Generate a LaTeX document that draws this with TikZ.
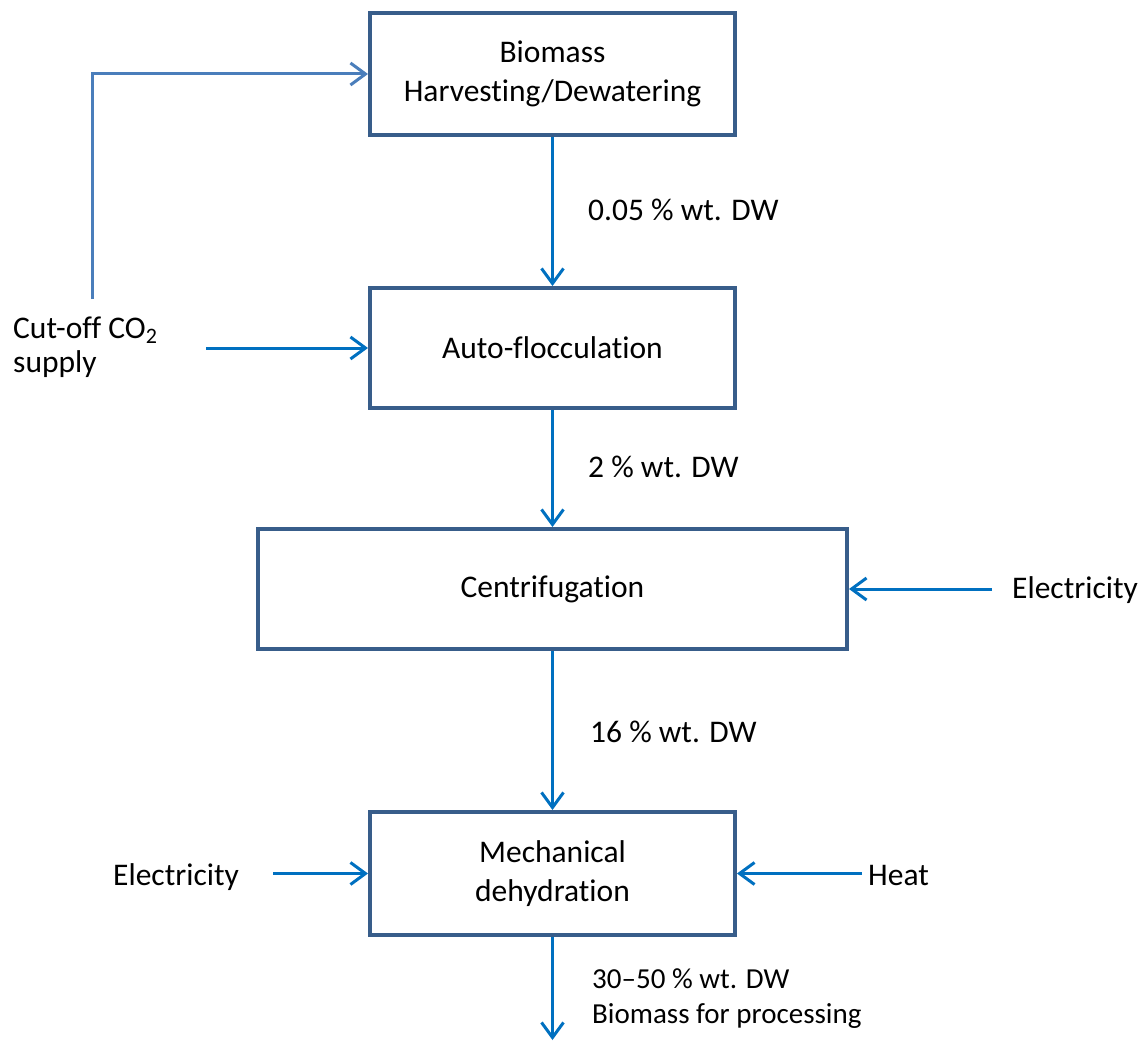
\documentclass[tikz,border=0pt]{standalone}
\usepackage{fontspec}
\setmainfont{Carlito}[Ligatures=NoCommon]
\usetikzlibrary{arrows.meta}
\definecolor{boxline}{RGB}{56,93,138}
\definecolor{flow}{RGB}{0,112,192}
\definecolor{feed}{RGB}{74,126,187}
\begin{document}
\begin{tikzpicture}[x=1pt,y=-1pt,
  font=\fontsize{31.5}{39}\selectfont,
  stage/.style={draw=boxline, line width=4pt, rectangle, inner sep=0pt,
    align=center, minimum width=365pt},
  flowline/.style={draw=flow, line width=3pt,
    -{Straight Barb[length=15pt,width=22pt,line width=3pt]}},
  feedline/.style={draw=feed, line width=3pt,
    -{Straight Barb[length=15pt,width=22pt,line width=3pt]}},
  lbl/.style={anchor=base west, inner sep=0pt},
  smalllbl/.style={lbl, font=\fontsize{29}{33}\selectfont}]
\useasboundingbox (0,0) rectangle (1146,1041);

% process stages
\node[stage, minimum height=122pt] (harvest) at (552.5,74) {Biomass\\Harvesting/Dewatering};
\node[stage, minimum height=120pt] (floc) at (552.5,348) {Auto-flocculation};
\node[stage, minimum width=589pt, minimum height=120pt] (centri) at (552.5,589) {Centrifugation};
\node[stage, minimum height=123pt] (dehyd) at (552.5,873.5) {Mechanical\\dehydration};

% side inputs
\node[lbl] (co2a) at (13,338) {Cut-off CO\textsubscript{2}};
\node[lbl] (co2b) at (13,372) {supply};
\node[lbl] (elecR) at (1012,598) {Electricity};
\node[lbl] (elecL) at (113,885) {Electricity};
\node[lbl] (heat) at (868,885) {Heat};

% stream labels
\node[lbl] (s1) at (588,220) {0.05 \% wt. DW};
\node[lbl] (s2) at (588,477) {2 \% wt. DW};
\node[lbl] (s3) at (590,742) {16 \% wt. DW};
\node[smalllbl] (s4) at (592,988) {30–50 \% wt. DW};
\node[smalllbl] (s5) at (592,1023) {Biomass for processing};

% connector end points
\coordinate (co2up) at (92,299);
\coordinate (co2in) at (206,348);
\coordinate (elecRin) at (992,589);
\coordinate (elecLin) at (273,873.5);
\coordinate (heatin) at (862,873.5);
\coordinate (out) at (552.5,1040);

% main flow
\draw[flowline] (harvest) -- (floc);
\draw[flowline] (floc) -- (centri);
\draw[flowline] (centri) -- (dehyd);
\draw[flowline] (dehyd) -- (out);

% inputs
\draw[feedline] (co2up) |- (harvest.west);
\draw[flowline] (co2in) -- (floc.west);
\draw[flowline] (elecRin) -- (centri.east);
\draw[flowline] (elecLin) -- (dehyd.west);
\draw[flowline] (heatin) -- (dehyd.east);
\end{tikzpicture}
\end{document}
